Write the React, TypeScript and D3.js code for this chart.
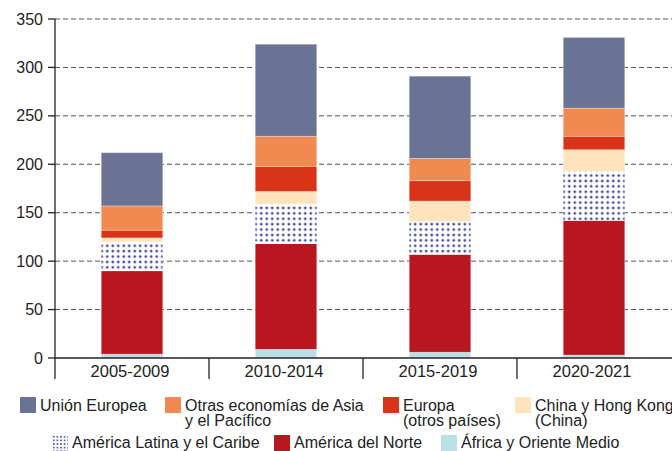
import React from 'react';
import * as d3 from 'd3';

const periods = ['2005-2009', '2010-2014', '2015-2019', '2020-2021'];

// stacked from bottom to top
const africa = [4, 9, 6, 3];
const northAmerica = [86, 109, 101, 139];
const latinAmerica = [30, 41, 34, 51];
const china = [4, 13, 21, 22];
const europeOther = [8, 26, 21, 14];
const asiaPacific = [25, 31, 23, 29];
const eu = [55, 95, 85, 73];

const yTicks = [0, 50, 100, 150, 200, 250, 300, 350];

const series = [
  { key: 'africa', values: africa, fill: '#b9e0e7' },
  { key: 'na', values: northAmerica, fill: '#b8171f' },
  { key: 'latam', values: latinAmerica, fill: 'url(#dots)' },
  { key: 'china', values: china, fill: '#fde4bc' },
  { key: 'europe', values: europeOther, fill: '#d93418' },
  { key: 'asia', values: asiaPacific, fill: '#f08a50' },
  { key: 'eu', values: eu, fill: '#6a7394' },
];

const legendRow1 = [
  { lines: ['Unión Europea'], fill: '#6a7394', x: 20 },
  { lines: ['Otras economías de Asia', 'y el Pacífico'], fill: '#f08a50', x: 165 },
  { lines: ['Europa', '(otros países)'], fill: '#d93418', x: 383 },
  { lines: ['China y Hong Kong', '(China)'], fill: '#fde4bc', x: 515 },
];
const legendRow2 = [
  { lines: ['América Latina y el Caribe'], fill: 'url(#dotsSmall)', x: 52 },
  { lines: ['América del Norte'], fill: '#b8171f', x: 274 },
  { lines: ['África y Oriente Medio'], fill: '#b9e0e7', x: 441 },
];

const W = 672;
const H = 451;
const font = '"Liberation Sans", Arial, Helvetica, sans-serif';

export default function App() {
  const x = d3.scaleBand<string>().domain(periods).range([55, 671]).paddingInner(0.6).paddingOuter(0.3);
  const y = d3.scaleLinear().domain([0, 350]).range([358, 19]);

  const stackData = periods.map((p, i) => {
    const row: Record<string, any> = { period: p };
    series.forEach(s => (row[s.key] = s.values[i]));
    return row;
  });
  const stacked = d3.stack<any>().keys(series.map(s => s.key))(stackData);

  const step = x.step();
  const seps = periods.slice(1).map(p => (x(p) as number) - (step - x.bandwidth()) / 2);

  return (
    <svg width={W} height={H} style={{ position: 'absolute', left: 0, top: 0, fontFamily: font }}>
      <defs>
        <pattern id="dots" width={5.5} height={5.4} patternUnits="userSpaceOnUse">
          <rect width={5.5} height={5.4} fill="#fff" />
          <circle cx={2.75} cy={2.7} r={1.35} fill="#3b469c" />
        </pattern>
        <pattern id="dotsSmall" x={52} y={435} width={3.6} height={3.6} patternUnits="userSpaceOnUse">
          <rect width={3.6} height={3.6} fill="#fff" />
          <circle cx={1.8} cy={1.8} r={0.95} fill="#3b469c" />
        </pattern>
      </defs>

      {/* grid */}
      {yTicks.filter(t => t > 0).map(t => (
        <line key={t} x1={55} x2={W} y1={y(t)} y2={y(t)} stroke="#555" strokeWidth={1} strokeDasharray="5,3" />
      ))}

      {/* bars */}
      {stacked.map((layer, li) => (
        <g key={layer.key}>
          {layer.map((d, i) => (
            <rect
              key={i}
              x={x(periods[i])}
              width={x.bandwidth()}
              y={y(d[1])}
              height={Math.max(0, y(d[0]) - y(d[1]))}
              fill={series[li].fill}
              stroke="rgba(255,255,255,0.5)"
              strokeWidth={0.6}
            />
          ))}
        </g>
      ))}

      {/* axes */}
      <line x1={55} x2={55} y1={19} y2={379} stroke="#222" strokeWidth={1.3} />
      <line x1={55} x2={W} y1={358} y2={358} stroke="#222" strokeWidth={1.3} />
      {seps.map((sx, i) => (
        <line key={i} x1={sx} x2={sx} y1={358} y2={379} stroke="#222" strokeWidth={1.3} />
      ))}
      {yTicks.map(t => (
        <g key={t}>
          <line x1={48} x2={55} y1={y(t)} y2={y(t)} stroke="#222" strokeWidth={1.3} />
          <text x={43} y={y(t)} dy="0.35em" textAnchor="end" fontSize={16} fill="#222">{t}</text>
        </g>
      ))}
      {periods.map(p => (
        <text key={p} x={(x(p) as number) + x.bandwidth() / 2 - 2} y={377} textAnchor="middle" fontSize={16.5} fill="#222">{p}</text>
      ))}

      {/* legend */}
      {legendRow1.map(l => (
        <g key={l.lines[0]}>
          <rect x={l.x} y={397} width={16} height={16} fill={l.fill} />
          {l.lines.map((t, i) => (
            <text key={i} x={l.x + 20} y={410.5 + i * 15} fontSize={16} fill="#222">{t}</text>
          ))}
        </g>
      ))}
      {legendRow2.map(l => (
        <g key={l.lines[0]}>
          <rect x={l.x} y={435} width={16} height={16} fill={l.fill} />
          <text x={l.x + 20} y={447.5} fontSize={16} fill="#222">{l.lines[0]}</text>
        </g>
      ))}
    </svg>
  );
}
